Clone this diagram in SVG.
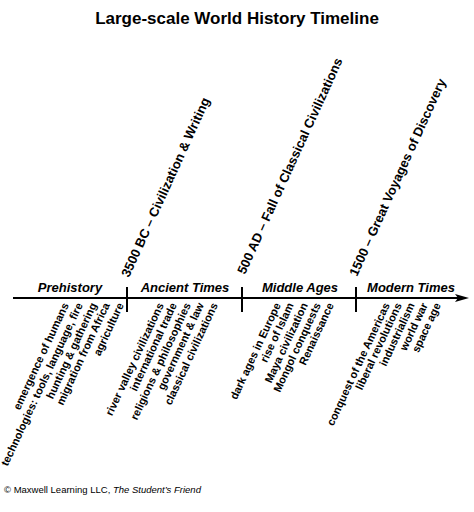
<svg xmlns="http://www.w3.org/2000/svg" width="474" height="512" viewBox="0 0 474 512">
<style>
text{font-family:"Liberation Sans",Arial,sans-serif;fill:#000}
.title{font-size:17px;font-weight:bold}
.period{font-size:13px;font-weight:bold;font-style:italic}
.date{font-size:13px;font-weight:bold}
.item{font-size:11px;font-weight:bold;text-anchor:end}
.credit{font-size:9.5px}
.axis{stroke:#000;stroke-width:2;fill:none}
</style>
<rect width="474" height="512" fill="#fff"/>
<text class="title" x="237" y="24" text-anchor="middle">Large-scale World History Timeline</text>
<g id="connectors">
<line class="axis" x1="13" y1="298" x2="458" y2="298"/>
<polygon points="455,294 469,298 455,302 458,298" fill="#000"/>
<line class="axis" x1="127" y1="287" x2="127" y2="312"/>
<line class="axis" x1="242" y1="287" x2="242" y2="312"/>
<line class="axis" x1="356" y1="287" x2="356" y2="312"/>
</g>
<g id="prehistory">
<text class="period" x="70" y="292" text-anchor="middle">Prehistory</text>
<text class="item" transform="translate(69,305) rotate(-65)">emergence of humans</text>
<text class="item" transform="translate(83,305) rotate(-65)">technologies: tools, language, fire</text>
<text class="item" transform="translate(97,305) rotate(-65)">hunting &amp; gathering</text>
<text class="item" transform="translate(110,305) rotate(-65)">migration from Africa</text>
<text class="item" transform="translate(124,305) rotate(-65)">agriculture</text>
</g>
<g id="ancient">
<text class="period" x="185" y="292" text-anchor="middle">Ancient Times</text>
<text class="date" transform="translate(129,278) rotate(-65.5)">3500 BC – Civilization &amp; Writing</text>
<text class="item" transform="translate(164,305) rotate(-65)">river valley civilizations</text>
<text class="item" transform="translate(177,305) rotate(-65)">international trade</text>
<text class="item" transform="translate(191,305) rotate(-65)">religions &amp; philosophies</text>
<text class="item" transform="translate(204,305) rotate(-65)">government &amp; law</text>
<text class="item" transform="translate(218,305) rotate(-65)">classical civilizations</text>
</g>
<g id="middle">
<text class="period" x="300" y="292" text-anchor="middle">Middle Ages</text>
<text class="date" transform="translate(245,275) rotate(-65.5)">500 AD – Fall of Classical Civilizations</text>
<text class="item" transform="translate(281,305) rotate(-65)">dark ages in Europe</text>
<text class="item" transform="translate(294,305) rotate(-65)">rise of Islam</text>
<text class="item" transform="translate(308,305) rotate(-65)">Maya civilization</text>
<text class="item" transform="translate(321,305) rotate(-65)">Mongol conquests</text>
<text class="item" transform="translate(334,305) rotate(-65)">Renaissance</text>
</g>
<g id="modern">
<text class="period" x="411" y="292" text-anchor="middle">Modern Times</text>
<text class="date" transform="translate(357,277) rotate(-65.5)">1500 – Great Voyages of Discovery</text>
<text class="item" transform="translate(390,305) rotate(-65)">conquest of the Americas</text>
<text class="item" transform="translate(402,305) rotate(-65)">liberal revolutions</text>
<text class="item" transform="translate(415,305) rotate(-65)">industrialism</text>
<text class="item" transform="translate(428,305) rotate(-65)">world war</text>
<text class="item" transform="translate(441,305) rotate(-65)">space age</text>
</g>
<text class="credit" x="4" y="493">© Maxwell Learning LLC, <tspan font-style="italic">The Student’s Friend</tspan></text>
</svg>
